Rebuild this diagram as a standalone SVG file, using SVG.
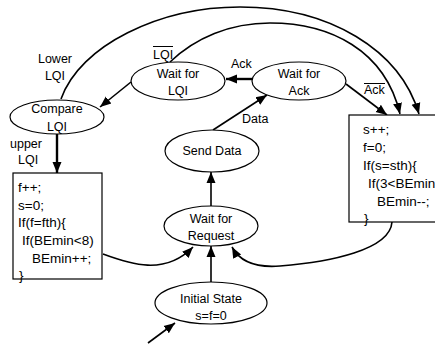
<svg xmlns="http://www.w3.org/2000/svg" width="435" height="347" viewBox="0 0 435 347">
<defs>
<marker id="ah" markerUnits="userSpaceOnUse" markerWidth="12" markerHeight="12" viewBox="0 0 12 12" refX="11" refY="6" orient="auto">
<path d="M0,1.5 L11,6 L0,10.5 Z" fill="#000"/>
</marker>
<style>
.n{fill:#fff;stroke:#000;stroke-width:1.2}
.t{font-family:"Liberation Sans",Arial,sans-serif;font-size:12.5px;fill:#000;text-anchor:middle}
.b{font-family:"Liberation Sans",Arial,sans-serif;font-size:13.5px;fill:#000}
.l{font-family:"Liberation Sans",Arial,sans-serif;font-size:12.5px;fill:#000}
.c{fill:none;stroke:#000;stroke-width:1.6;marker-end:url(#ah)}
.k{fill:none;stroke:#000;stroke-width:2.4;marker-end:url(#ah)}
.o{stroke:#000;stroke-width:1}
</style>
</defs>
<rect width="435" height="347" fill="#fff"/>
<g id="connectors">
<path class="c" d="M61,99 C80,45 160,7 240,7 C330,7 400,50 419,114"/>
<path class="c" d="M170,62 C195,38 230,23 270,23 C330,23 385,50 400,114"/>
<path class="k" d="M57,134 L57,173"/>
<path class="c" d="M131,82 L100,107"/>
<path class="k" d="M252,79 L226,79"/>
<path class="c" d="M213,130 L267,95"/>
<path class="c" d="M346,84 L387,115"/>
<path class="c" d="M211,206 L211,172"/>
<path class="c" d="M211,282 L211,246"/>
<path class="c" d="M148,343 L175,323"/>
<path class="c" d="M103,254 C130,264 165,276 193,247"/>
<path class="c" d="M392,222 C390,250 330,262 280,266 C255,268 240,262 232,247"/>
</g>
<g id="compare">
<ellipse class="n" cx="57" cy="117" rx="47" ry="17"/>
<text class="t" x="57" y="113">Compare</text>
<text class="t" x="57" y="131">LQI</text>
</g>
<g id="waitlqi">
<ellipse class="n" cx="178" cy="81" rx="47" ry="19"/>
<text class="t" x="178" y="78">Wait for</text>
<text class="t" x="178" y="95">LQI</text>
</g>
<g id="waitack">
<ellipse class="n" cx="299" cy="81" rx="47" ry="19"/>
<text class="t" x="299" y="78">Wait for</text>
<text class="t" x="299" y="95">Ack</text>
</g>
<g id="senddata">
<ellipse class="n" cx="212" cy="151" rx="47" ry="21"/>
<text class="t" x="212" y="155">Send Data</text>
</g>
<g id="waitreq">
<ellipse class="n" cx="211" cy="226" rx="47" ry="20"/>
<text class="t" x="211" y="223">Wait for</text>
<text class="t" x="211" y="240">Request</text>
</g>
<g id="initial">
<ellipse class="n" cx="211" cy="303" rx="56" ry="21"/>
<text class="t" x="211" y="303">Initial State</text>
<text class="t" x="211" y="320">s=f=0</text>
</g>
<g id="leftbox">
<rect class="n" x="13" y="173" width="89" height="106"/>
<text class="b" x="18" y="192">f++;</text>
<text class="b" x="18" y="210">s=0;</text>
<text class="b" x="18" y="227">If(f=fth){</text>
<text class="b" x="22" y="245">If(BEmin&lt;8)</text>
<text class="b" x="32" y="263">BEmin++;</text>
<text class="b" x="19" y="280">}</text>
</g>
<g id="rightbox">
<rect class="n" x="349" y="115" width="100" height="107"/>
<text class="b" x="363" y="134">s++;</text>
<text class="b" x="363" y="152">f=0;</text>
<text class="b" x="363" y="170">If(s=sth){</text>
<text class="b" x="368" y="188">If(3&lt;BEmin)</text>
<text class="b" x="377" y="206">BEmin--;</text>
<text class="b" x="364" y="223">}</text>
</g>
<g id="labels">
<text class="t" x="55" y="63">Lower</text>
<text class="t" x="55" y="80">LQI</text>
<text class="l" x="10" y="148">upper</text>
<text class="l" x="18" y="164">LQI</text>
<text class="l" x="153" y="59">LQI</text>
<line class="o" x1="153" y1="46.5" x2="173" y2="46.5"/>
<text class="l" x="231" y="68">Ack</text>
<text class="l" x="242" y="123">Data</text>
<text class="l" x="364" y="94">Ack</text>
<line class="o" x1="364" y1="83.5" x2="385" y2="83.5"/>
</g>
</svg>
